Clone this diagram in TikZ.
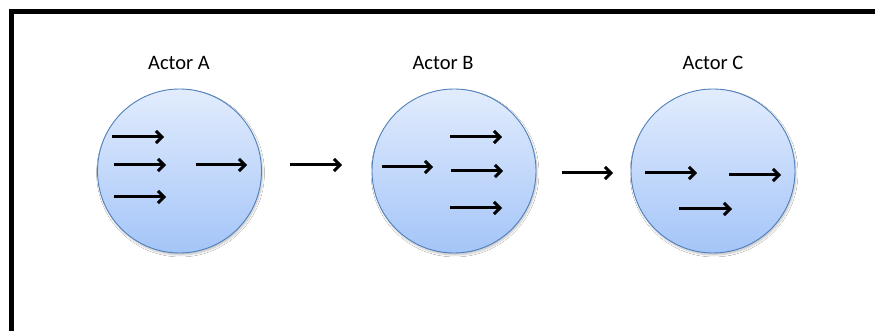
\documentclass[tikz,border=0pt]{standalone}
\usepackage{fontspec}
\setmainfont{Carlito}
\usetikzlibrary{arrows.meta,shadows.blur}
\definecolor{circTop}{RGB}{226,236,253}
\definecolor{circBot}{RGB}{164,197,248}
\definecolor{circEdge}{RGB}{79,129,189}
\begin{document}
\begin{tikzpicture}[x=1pt,y=-1pt,
  actor/.style={circle,minimum size=164pt,inner sep=0pt,draw=circEdge,line width=0.9pt,
    top color=circTop,bottom color=circBot,
    blur shadow={shadow xshift=1pt,shadow yshift=-2pt,shadow blur steps=6,shadow opacity=25}},
  label/.style={font=\fontsize{20.5pt}{24pt}\selectfont,anchor=base,inner sep=0pt},
  flow/.style={line width=3pt,-{Straight Barb[length=6pt,width=12pt,line width=3pt]}}]
\useasboundingbox (0,0) rectangle (875,331);
\clip (0,0) rectangle (875,331);
\fill[white] (0,0) rectangle (875,331);
\draw[line width=5pt] (11,11.5) rectangle (900,360);

\node[actor] (A) at (179.5,171) {};
\node[actor] (B) at (454,171) {};
\node[actor] (C) at (713,171) {};

\node[label] (la) at (179,69.5) {Actor A};
\node[label] (lb) at (443,69.5) {Actor B};
\node[label] (lc) at (713,69.5) {Actor C};

% Actor A arrows
\coordinate (a1s) at (112,137); \coordinate (a1e) at (164,137);
\coordinate (a2s) at (114,165); \coordinate (a2e) at (166,165);
\coordinate (a3s) at (114,197); \coordinate (a3e) at (166,197);
\coordinate (a4s) at (196,165); \coordinate (a4e) at (247,165);
\draw[flow] (a1s) -- (a1e);
\draw[flow] (a2s) -- (a2e);
\draw[flow] (a3s) -- (a3e);
\draw[flow] (a4s) -- (a4e);

% between A and B
\coordinate (ab1) at (290,165); \coordinate (ab2) at (342,165);
\draw[flow] (ab1) -- (ab2);

% Actor B arrows
\coordinate (b1s) at (382,167); \coordinate (b1e) at (433,167);
\coordinate (b2s) at (450,137); \coordinate (b2e) at (502,137);
\coordinate (b3s) at (451,171); \coordinate (b3e) at (503,171);
\coordinate (b4s) at (450,208); \coordinate (b4e) at (502,208);
\draw[flow] (b1s) -- (b1e);
\draw[flow] (b2s) -- (b2e);
\draw[flow] (b3s) -- (b3e);
\draw[flow] (b4s) -- (b4e);

% between B and C
\coordinate (bc1) at (562,173); \coordinate (bc2) at (613,173);
\draw[flow] (bc1) -- (bc2);

% Actor C arrows
\coordinate (c1s) at (645,173); \coordinate (c1e) at (697,173);
\coordinate (c2s) at (729,175); \coordinate (c2e) at (781,175);
\coordinate (c3s) at (679,209); \coordinate (c3e) at (732,209);
\draw[flow] (c1s) -- (c1e);
\draw[flow] (c2s) -- (c2e);
\draw[flow] (c3s) -- (c3e);
\end{tikzpicture}
\end{document}
